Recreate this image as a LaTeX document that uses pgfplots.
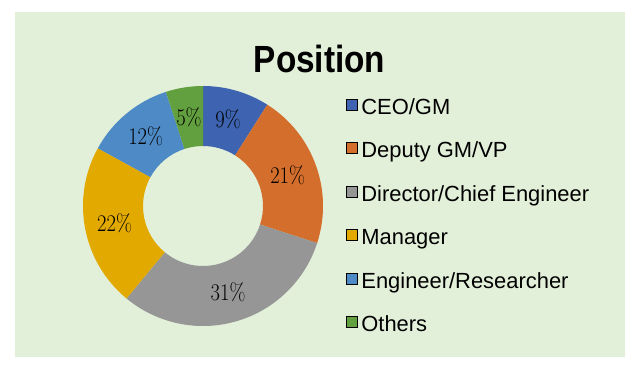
\documentclass[border=0pt]{standalone}
\usepackage{fontspec}
\newfontfamily\arialf{Liberation Sans}
\newfontfamily\arialt[FakeStretch=0.88]{Liberation Sans}
\newfontfamily\lmc[FakeStretch=0.86]{Latin Modern Roman}
\usepackage{pgfplots}
\usepackage{pgfplotstable}
\pgfplotsset{compat=1.18}
\definecolor{c0}{HTML}{3E63B0}
\definecolor{c1}{HTML}{D46E2C}
\definecolor{c2}{HTML}{969696}
\definecolor{c3}{HTML}{E2AA00}
\definecolor{c4}{HTML}{4E8AC5}
\definecolor{c5}{HTML}{62A03F}
\definecolor{bg}{HTML}{E2EFD9}

\pgfplotstableread[col sep=comma]{
share,name
9,CEO/GM
21,Deputy GM/VP
31,Director/Chief Engineer
22,Manager
12,Engineer/Researcher
5,Others
}\posdata

\gdef\cumul{0}%
\pgfplotsforeachungrouped \idx in {0,...,5}{%
  \pgfplotstablegetelem{\idx}{share}\of\posdata
  \edef\vv{\pgfplotsretval}%
  \pgfplotstablegetelem{\idx}{name}\of\posdata
  \expandafter\xdef\csname name\idx\endcsname{\pgfplotsretval}%
  \pgfmathsetmacro\sa{90-3.6*\cumul}%
  \pgfmathsetmacro\ea{90-3.6*(\cumul+\vv)}%
  \pgfmathsetmacro\ma{(\sa+\ea)/2}%
  \expandafter\xdef\csname sa\idx\endcsname{\sa}%
  \expandafter\xdef\csname ea\idx\endcsname{\ea}%
  \expandafter\xdef\csname ma\idx\endcsname{\ma}%
  \expandafter\xdef\csname v\idx\endcsname{\vv}%
  \pgfmathsetmacro\newcum{\cumul+\vv}%
  \xdef\cumul{\newcum}%
}

\begin{document}
\begin{tikzpicture}
\begin{axis}[
  width=640bp, height=370bp, scale only axis,
  xmin=0, xmax=640, ymin=0, ymax=370,
  hide axis, clip=false,
  legend cell align=left,
  legend style={at={(axis cs:346,271.5)}, anchor=north west, draw=none, fill=none,
    inner sep=0pt, outer sep=0pt, row sep=22.8bp, column sep=4bp,
    font=\arialf\fontsize{22}{25}\selectfont,
    nodes={inner sep=0pt, text height=15bp, text depth=5bp}},
  legend image code/.code={\fill[#1] (0bp,-0.5bp) rectangle (11bp,10.5bp);},
]
\fill[white] (axis cs:0,0) rectangle (axis cs:640,370);
\fill[bg] (axis cs:15,13) rectangle (axis cs:625,358);
\pgfplotsinvokeforeach{0,...,5}{%
  \fill[c#1] (axis cs:203,164) ++(\csname sa#1\endcsname:120bp)
    arc[start angle=\csname sa#1\endcsname, end angle=\csname ea#1\endcsname, radius=120bp]
    -- ++(\csname ea#1\endcsname:-60bp)
    arc[start angle=\csname ea#1\endcsname, end angle=\csname sa#1\endcsname, radius=60bp]
    -- cycle;
  \path (axis cs:203,164) ++(\csname ma#1\endcsname:90bp)
    node[font=\lmc\fontsize{24}{28}\selectfont, inner sep=0pt] {\csname v#1\endcsname\%};
  \addlegendimage{fill=c#1}
  \addlegendentry{\csname name#1\endcsname}
}
\node[font=\arialt\bfseries\fontsize{38}{42}\selectfont, anchor=base, inner sep=0pt]
  at (axis cs:319.5,298) {Position};
\end{axis}
\end{tikzpicture}
\end{document}
